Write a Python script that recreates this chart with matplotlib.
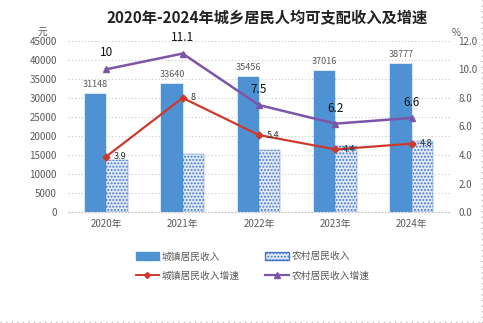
import numpy as np
import matplotlib.pyplot as plt
from matplotlib.lines import Line2D

plt.rcParams['font.family'] = ['Noto Sans CJK SC', 'DejaVu Sans']
plt.rcParams['hatch.linewidth'] = 0.9

years = ['2020年', '2021年', '2022年', '2023年', '2024年']
urban_income = [31148, 33640, 35456, 37016, 38777]
rural_income = [13760, 15290, 16440, 17460, 18610]
urban_growth = [3.9, 8, 5.4, 4.4, 4.8]
rural_growth = [10, 11.1, 7.5, 6.2, 6.6]

BLUE = '#4f92d4'
RURAL_FACE = '#dfe9f7'
RURAL_EDGE = '#4577cc'
RED = '#cc3a2e'
PURPLE = '#7d55a8'
GRAY = '#595959'

fig = plt.figure(figsize=(4.83, 3.23), dpi=100)
ax = fig.add_axes([68 / 483, 1 - 212.3 / 323, (450 - 68) / 483, (212.3 - 40.7) / 323])
ax2 = ax.twinx()

x = np.arange(len(years))
w = 0.28
ax.bar(x - w / 2, urban_income, w, color=BLUE, edgecolor=BLUE, lw=0.3, zorder=2)
ax.bar(x + w / 2, rural_income, w, color=RURAL_FACE, edgecolor=RURAL_EDGE,
       hatch='.....', lw=0.3, zorder=2)
for xi, v in zip(x, urban_income):
    ax.text(xi - w / 2, v + 1300, str(v), ha='center', va='bottom', fontsize=6.5, color=GRAY)

ax.set_xlim(-0.5, 4.5)
ax.set_ylim(0, 45000)
ax.set_yticks(range(0, 45001, 5000))
ax.set_xticks(x)
ax.set_xticklabels(years, fontsize=7, color=GRAY)
ax.tick_params(axis='y', labelsize=7, colors=GRAY, length=0, pad=8)
ax.tick_params(axis='x', length=0, pad=5)
ax.grid(axis='y', color='#c8c8c8', ls=(0, (1, 2)), lw=0.8, zorder=0)
ax.set_axisbelow(True)
for s in ['top', 'right', 'left']:
    ax.spines[s].set_visible(False)
ax.spines['bottom'].set_color('#c8c8c8')
ax.spines['bottom'].set_linestyle((0, (1, 2)))

ax2.plot(x, urban_growth, color=RED, lw=1.6, marker='D', ms=3.5, zorder=4)
ax2.plot(x, rural_growth, color=PURPLE, lw=1.8, marker='^', ms=5, zorder=4)
ax2.set_ylim(0, 12)
ax2.set_yticks(np.arange(0, 12.1, 2))
ax2.set_yticklabels([f'{v:.1f}' for v in np.arange(0, 12.1, 2)])
ax2.tick_params(axis='y', labelsize=7, colors=GRAY, length=0, pad=6)
for s in ax2.spines.values():
    s.set_visible(False)

for xi, v in zip(x, urban_growth):
    ax2.text(xi + 0.1, v, f'{v:g}', ha='left', va='center', fontsize=6.5, color='#333333', zorder=5)
offsets = [(0, 1.2), (0, 1.1), (0, 1.1), (0, 1.05), (0, 1.05)]
for xi, v, (dx, dy) in zip(x, rural_growth, offsets):
    ax2.text(xi + dx, v + dy, f'{v:g}', ha='center', va='center', fontsize=8.5, color='#111111', zorder=5)

fig.text(267 / 483, 1 - 18 / 323, '2020年-2024年城乡居民人均可支配收入及增速', ha='center', va='center',
         fontsize=11, fontweight='bold', color='#222222')
fig.text(42 / 483, 1 - 32 / 323, '元', ha='center', va='center', fontsize=7, color=GRAY)
fig.text(456 / 483, 1 - 33 / 323, '%', ha='center', va='center', fontsize=7, color=GRAY)

h_urban = plt.Rectangle((0, 0), 1, 1, facecolor=BLUE, edgecolor=BLUE)
h_rural = plt.Rectangle((0, 0), 1, 1, facecolor=RURAL_FACE, edgecolor=RURAL_EDGE, hatch='.....')
h_ug = Line2D([], [], color=RED, lw=1.4, marker='D', ms=3)
h_rg = Line2D([], [], color=PURPLE, lw=1.6, marker='^', ms=4.5)
# legend fills column-wise, so order handles to get rows: bars / growth lines
handles = [h_urban, h_ug, h_rural, h_rg]
labels = ['城镇居民收入', '城镇居民收入增速', '农村居民收入', '农村居民收入增速']
fig.legend(handles, labels, ncol=2, loc='center left', bbox_to_anchor=(127 / 483, 1 - 266 / 323),
           frameon=False, fontsize=7, labelcolor=GRAY, columnspacing=2.6,
           handlelength=2.4, handleheight=0.8, labelspacing=0.95, handletextpad=0.3)

fig.add_artist(Line2D([481.5 / 483, 481.5 / 483], [0, 1], color='#bbbbbb', lw=1, ls=(0, (1, 3))))
fig.add_artist(Line2D([0, 1], [1.5 / 323, 1.5 / 323], color='#bbbbbb', lw=1, ls=(0, (1, 3))))

fig.savefig('out.png', dpi=100)
